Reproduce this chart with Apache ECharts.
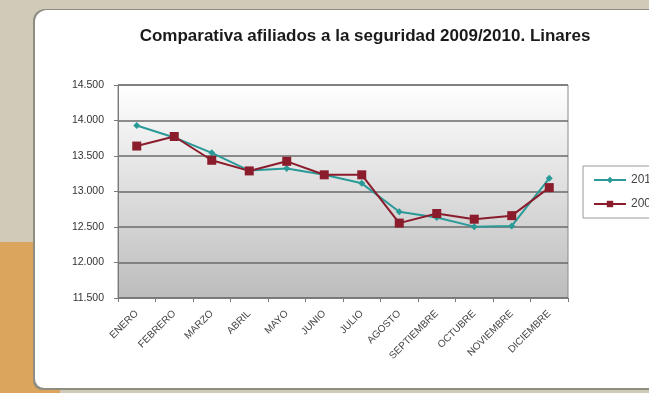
<!DOCTYPE html>
<html><head><meta charset="utf-8">
<script src="https://cdn.jsdelivr.net/npm/echarts@6/dist/echarts.min.js"></script>
<style>html,body{margin:0;padding:0;background:#cfcbb8;}#c{width:649px;height:393px;}</style>
</head><body><div id="c"></div>
<script>
const months = ['ENERO','FEBRERO','MARZO','ABRIL','MAYO','JUNIO','JULIO','AGOSTO','SEPTIEMBRE','OCTUBRE','NOVIEMBRE','DICIEMBRE'];
const values2010 = [13930, 13760, 13545, 13295, 13325, 13235, 13115, 12715, 12635, 12505, 12515, 13185];
const values2009 = [13640, 13775, 13440, 13290, 13425, 13235, 13235, 12555, 12690, 12610, 12660, 13055];
const yTicks = {min: 11500, max: 14500, interval: 500};
const seriesNames = ['2010', '2009'];

const chart = echarts.init(document.getElementById('c'), null, {renderer: 'canvas'});
const fmt = v => String(v).replace(/\B(?=(\d{3})+(?!\d))/g, '.');
chart.setOption({
  backgroundColor: '#cfcbb8',
  animation: false,
  graphic: [
    {type: 'rect', shape: {x: 0, y: 242, width: 60, height: 151}, style: {fill: '#dca55e'}, z: -10},
    {type: 'rect', shape: {x: 33, y: 9, width: 640, height: 381, r: [12, 0, 0, 9]}, style: {fill: '#8f8c80'}, z: -9},
    {type: 'rect', shape: {x: 35, y: 10, width: 640, height: 378, r: [12, 0, 0, 9]}, style: {fill: '#ffffff'}, z: -8}
  ],
  title: {
    text: 'Comparativa afiliados a la seguridad 2009/2010. Linares',
    left: 360, top: 23, textAlign: 'center',
    textStyle: {fontFamily: 'Liberation Sans, Arial', fontSize: 17, fontWeight: 'bold', color: '#1a1a1a'}
  },
  legend: {
    orient: 'vertical', left: 583, top: 166,
    data: seriesNames,
    backgroundColor: '#ffffff', borderColor: '#9a9a9a', borderWidth: 1,
    padding: [8, 6, 8, 10], itemGap: 12, itemWidth: 32, itemHeight: 8,
    textStyle: {fontFamily: 'Liberation Sans, Arial', fontSize: 12, color: '#444'}
  },
  grid: {
    left: 118, top: 85, right: 81, bottom: 95, show: true,
    borderColor: '#8a8a8a', borderWidth: 1,
    backgroundColor: {type: 'linear', x: 0, y: 0, x2: 0, y2: 1, colorStops: [
      {offset: 0, color: '#ffffff'}, {offset: 1, color: '#bcbcbc'}]}
  },
  xAxis: {
    type: 'category', data: months, boundaryGap: true,
    axisLine: {show: true, lineStyle: {color: '#7a7a7a'}},
    axisTick: {show: true, length: 4, lineStyle: {color: '#7a7a7a'}},
    axisLabel: {rotate: 45, fontSize: 10, color: '#444', margin: 14, fontFamily: 'Liberation Sans, Arial', interval: 0}
  },
  yAxis: {
    type: 'value', min: yTicks.min, max: yTicks.max, interval: yTicks.interval,
    axisLine: {show: true, lineStyle: {color: '#7a7a7a'}},
    axisTick: {show: true, length: 4, lineStyle: {color: '#7a7a7a'}},
    axisLabel: {formatter: fmt, fontSize: 10.5, color: '#333', margin: 14, fontFamily: 'Liberation Sans, Arial'},
    splitLine: {show: true, lineStyle: {color: '#6a6a6a', width: 1.5}}
  },
  series: [
    {name: seriesNames[0], type: 'line', data: values2010, symbol: 'diamond', symbolSize: 7,
     lineStyle: {color: '#2a9a98', width: 2}, itemStyle: {color: '#2a9a98'}},
    {name: seriesNames[1], type: 'line', data: values2009, symbol: 'rect', symbolSize: 9,
     lineStyle: {color: '#8a1c2c', width: 2}, itemStyle: {color: '#8a1c2c'}}
  ]
});
</script></body></html>
